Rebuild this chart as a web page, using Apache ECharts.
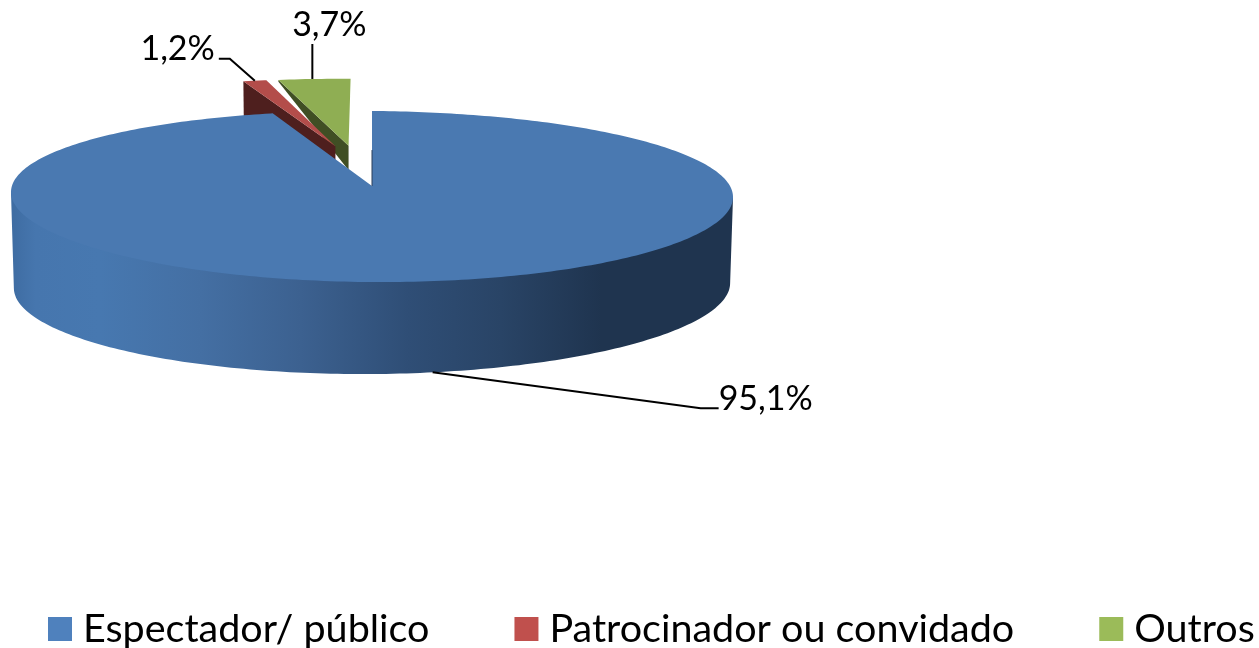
<!DOCTYPE html>
<html>
<head>
<meta charset="utf-8">
<style>
  html, body { margin: 0; padding: 0; background: #fff; }
  #chart { width: 1259px; height: 648px; }
</style>
<script src="https://cdn.jsdelivr.net/npm/echarts@6/dist/echarts.min.js"></script>
</head>
<body>
<div id="chart"></div>
<script>
const categories = ["Espectador/ público", "Patrocinador ou convidado", "Outros"];
const values = [95.1, 1.2, 3.7];

const legendColors = ["#4F81BD", "#C0504D", "#9BBB59"];
const topColors = ["#4A79B1", "#B34D4A", "#8FAE53"];
const wallColors = [null, "#4E1F1E", "#404F24"];
// how far the cut wall of a slice hangs down, at the rim and at the tip
const wallDepths = [null, [1, 1], [0.02, 0.27]];

const FONT = "Lato, sans-serif";
const LABEL_SIZE = 34;
const EXPLODE = 0.2546;
const RAD = Math.PI / 180;

const total = values.reduce((a, b) => a + b, 0);
const starts = values.map((_, i) =>
  values.slice(0, i).reduce((a, b) => a + b, 0) / total * 360
);
const ends = values.map((v, i) => starts[i] + v / total * 360);
const mids = values.map((_, i) => (starts[i] + ends[i]) / 2);

const dir = (deg) => [Math.sin(deg * RAD), Math.cos(deg * RAD)];

// tip of each slice on the pie plane, the first slice tip is the origin
const tips = mids.map((m) => {
  const a = dir(m);
  const b = dir(mids[0]);
  return [EXPLODE * (a[0] - b[0]), EXPLODE * (a[1] - b[1])];
});

// pie plane to screen, h = 0 on the top face and 1 on the bottom
const project = (u, v, h) => {
  const x = 372 + (359.2 * u) / (1 + 0.1 * v);
  const y = (186 - 61.4 * v) / (1 + 0.1228 * v) + 2.5 * u;
  return [
    372 + (x - 372) * (1 - 0.008 * h),
    y + h * (91 - v - 5 * u),
  ];
};

const rimPoint = (i, deg, h, r = 1) => {
  const d = dir(deg);
  return project(tips[i][0] + r * d[0], tips[i][1] + r * d[1], h);
};

const wallFill = new echarts.graphic.LinearGradient(
  14, 0, 730, 0,
  [
    { offset: 0, color: "#3F6DA3" },
    { offset: 0.03, color: "#4676AE" },
    { offset: 0.12, color: "#4778B0" },
    { offset: 0.26, color: "#446FA3" },
    { offset: 0.4, color: "#3C6190" },
    { offset: 0.55, color: "#2F4E76" },
    { offset: 0.68, color: "#294466" },
    { offset: 0.82, color: "#1F344F" },
    { offset: 1, color: "#1F344F" },
  ],
  true
);

const leader = (points) => ({
  type: "polyline",
  shape: { points },
  style: { stroke: "#000", lineWidth: 2, fill: null },
});

const labelText = (i, x, y, align) => ({
  type: "text",
  style: {
    x,
    y,
    text: values[i].toFixed(1).replace(".", ",") + "%",
    fontFamily: FONT,
    fontSize: LABEL_SIZE,
    fill: "#000",
    align,
    verticalAlign: "middle",
  },
});

const renderSlice = (params) => {
  const i = params.seriesIndex;
  const children = [];
  const rim = [];
  for (let a = starts[i]; a < ends[i]; a += 1) rim.push(rimPoint(i, a, 0));
  rim.push(rimPoint(i, ends[i], 0));
  const tip = project(tips[i][0], tips[i][1], 0);

  if (i === 0) {
    // outer wall of the big slice, tucked a little under the top face
    const upper = [];
    const lower = [];
    for (let a = 96; a <= 264; a += 1) {
      upper.push(rimPoint(i, a, 0, a === 96 || a === 264 ? 1 : 0.99));
      lower.unshift(rimPoint(i, a, 1));
    }
    children.push({
      type: "polygon",
      shape: { points: upper.concat(lower) },
      style: { fill: wallFill },
    });
  } else {
    const tipDown = project(tips[i][0], tips[i][1], wallDepths[i][1]);
    children.push({
      type: "polygon",
      shape: {
        points: [
          rimPoint(i, starts[i], 0),
          tip,
          tipDown,
          rimPoint(i, starts[i], wallDepths[i][0]),
        ],
      },
      style: { fill: wallColors[i] },
    });
  }

  children.push({
    type: "polygon",
    shape: { points: [tip].concat(rim) },
    style: { fill: topColors[i] },
  });

  if (i === 0) {
    children.push({
      type: "line",
      shape: {
        x1: tip[0],
        y1: tip[1],
        x2: rimPoint(i, 0, 0, 0.45)[0],
        y2: rimPoint(i, 0, 0, 0.45)[1],
      },
      style: { stroke: "#2A3F5A", lineWidth: 1 },
    });
    const p = rimPoint(i, mids[i], 1);
    children.push(leader([p, [p[0] + 268, p[1] + 36], [p[0] + 286, p[1] + 36]]));
    children.push(labelText(i, p[0] + 286, p[1] + 27, "left"));
  } else if (i === 1) {
    const p = rimPoint(i, mids[i], 0);
    children.push(leader([p, [p[0] - 25, p[1] - 22], [p[0] - 36, p[1] - 22]]));
    children.push(labelText(i, p[0] - 40, p[1] - 32, "right"));
  } else {
    const p = rimPoint(i, mids[i], 0);
    children.push(leader([[p[0] - 2, p[1]], [p[0] - 2, p[1] - 35]]));
    children.push(labelText(i, p[0] + 15, p[1] - 54, "center"));
  }
  return { type: "group", children };
};

const chart = echarts.init(document.getElementById("chart"), null, {
  renderer: "canvas",
});

chart.setOption({
  animation: false,
  color: legendColors,
  legend: {
    data: categories.map((name) => ({ name, icon: "rect" })),
    left: 48,
    top: 609,
    padding: 0,
    itemWidth: 24,
    itemHeight: 24,
    itemGap: 85,
    selectedMode: false,
    textStyle: {
      fontFamily: FONT,
      fontSize: 39.5,
      color: "#000",
      padding: [0, 0, 0, 6],
    },
  },
  series: categories.map((name, i) => ({
    type: "custom",
    name,
    coordinateSystem: "none",
    // the big slice sits on top of the two pulled out ones
    z: i === 0 ? 5 : i === 1 ? 4 : 3,
    silent: true,
    renderItem: renderSlice,
    data: [values[i]],
  })),
});
</script>
</body>
</html>
